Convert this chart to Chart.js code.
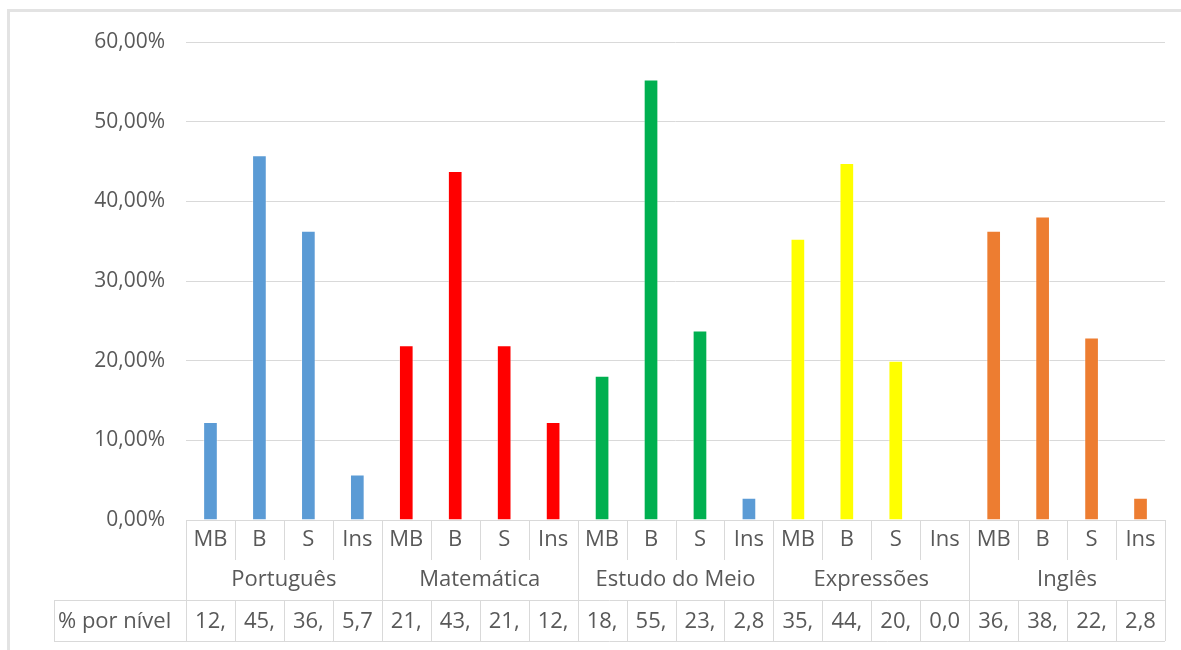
<!DOCTYPE html>
<html lang="pt">
<head>
    <meta charset="UTF-8">
    <title>% por nível</title>
    <style>
        body { margin: 0; background: #fff; }
        #wrap { width: 1181px; height: 650px; }
    </style>
</head>
<body>
    <div id="wrap"><canvas id="myChart" width="1181" height="650"></canvas></div>

    <script src="https://cdn.jsdelivr.net/npm/chart.js"></script>
    <script>
        // data
        const subjects = ['Português', 'Matemática', 'Estudo do Meio', 'Expressões', 'Inglês'];
        const levels = ['MB', 'B', 'S', 'Ins'];
        const percentages = [
            0.123, 0.458, 0.363, 0.057,
            0.2195, 0.438, 0.2195, 0.123,
            0.181, 0.553, 0.238, 0.028,
            0.353, 0.448, 0.200, 0.000,
            0.363, 0.381, 0.229, 0.028
        ];
        const barColors = [
            '#5B9BD5', '#5B9BD5', '#5B9BD5', '#5B9BD5',
            '#FF0000', '#FF0000', '#FF0000', '#FF0000',
            '#00B050', '#00B050', '#00B050', '#5B9BD5',
            '#FFFF00', '#FFFF00', '#FFFF00', '#FFFF00',
            '#ED7D31', '#ED7D31', '#ED7D31', '#ED7D31'
        ];
        const rowLabel = '% por nível';
        const yTicks = [0, 0.1, 0.2, 0.3, 0.4, 0.5, 0.6];

        const labels = [];
        subjects.forEach(s => levels.forEach(l => labels.push(l)));

        const FONT = '"Open Sans", sans-serif';
        const TEXT = '#595959';
        const LINE = '#d9d9d9';

        function pct(v) {
            return (v * 100).toFixed(2).replace('.', ',') + '%';
        }

        // frame + multi-level category axis + data table under the bars
        const tablePlugin = {
            id: 'tablePlugin',
            beforeDraw(chart) {
                const c = chart.ctx;
                c.save();
                c.fillStyle = '#fff';
                c.fillRect(0, 0, chart.width, chart.height);
                c.strokeStyle = '#e3e3e3';
                c.lineWidth = 3;
                c.beginPath();
                c.moveTo(8.5, chart.height);
                c.lineTo(8.5, 10.5);
                c.lineTo(chart.width, 10.5);
                c.stroke();
                c.restore();
            },
            afterDraw(chart) {
                const c = chart.ctx;
                const x = chart.scales.x;
                const area = chart.chartArea;
                const n = labels.length;
                const right = area.right;
                const half = (x.getPixelForValue(1) - x.getPixelForValue(0)) / 2;
                const y0 = area.bottom, y1 = y0 + 40, y2 = y1 + 40, y3 = y2 + 41;
                const rowLeft = 54;

                c.save();
                c.strokeStyle = LINE;
                c.lineWidth = 1;
                c.beginPath();
                // horizontal lines of the data table
                c.moveTo(rowLeft, y2 + 0.5); c.lineTo(right, y2 + 0.5);
                c.moveTo(rowLeft, y3 + 0.5); c.lineTo(right, y3 + 0.5);
                c.moveTo(rowLeft + 0.5, y2); c.lineTo(rowLeft + 0.5, y3);
                for (let i = 0; i <= n; i++) {
                    const px = Math.round(i < n ? x.getPixelForValue(i) - half : x.getPixelForValue(n - 1) + half) + 0.5;
                    const isGroup = i % levels.length === 0;
                    c.moveTo(px, y0);
                    c.lineTo(px, isGroup ? y3 : y1);
                    c.moveTo(px, y2);
                    c.lineTo(px, y3);
                }
                c.stroke();

                c.fillStyle = TEXT;
                c.font = '22px ' + FONT;
                c.textAlign = 'center';
                c.textBaseline = 'middle';
                for (let i = 0; i < n; i++) {
                    const cx = x.getPixelForValue(i);
                    c.fillText(labels[i], cx, (y0 + y1) / 2);
                    // Excel cuts the value off at the cell width
                    c.fillText(pct(percentages[i]).slice(0, 3), cx, (y2 + y3) / 2 + 1);
                }
                subjects.forEach((s, g) => {
                    const a = x.getPixelForValue(g * levels.length) - half;
                    const b = x.getPixelForValue(g * levels.length + levels.length - 1) + half;
                    c.fillText(s, (a + b) / 2, (y1 + y2) / 2);
                });
                c.textAlign = 'left';
                c.fillText(rowLabel, rowLeft + 4, (y2 + y3) / 2 + 1);
                c.restore();
            }
        };

        const ctx = document.getElementById('myChart').getContext('2d');
        const myChart = new Chart(ctx, {
            type: 'bar',
            data: {
                labels: labels,
                datasets: [{
                    data: percentages,
                    backgroundColor: barColors,
                    borderColor: 'rgba(255,255,255,0.45)',
                    borderWidth: 1,
                    categoryPercentage: 1,
                    barPercentage: 0.3
                }]
            },
            options: {
                responsive: false,
                animation: false,
                layout: {
                    padding: { top: 42, right: 16, bottom: 130, left: 0 }
                },
                plugins: {
                    legend: { display: false },
                    tooltip: { enabled: false }
                },
                scales: {
                    x: {
                        display: false
                    },
                    y: {
                        min: 0,
                        max: 0.6,
                        afterFit(scale) { scale.width = 186; },
                        afterBuildTicks(scale) { scale.ticks = yTicks.map(v => ({ value: v })); },
                        border: { display: false },
                        grid: { color: LINE, drawTicks: false },
                        ticks: {
                            padding: 21,
                            color: TEXT,
                            font: { family: FONT, size: 21 },
                            callback: v => pct(v)
                        }
                    }
                }
            },
            plugins: [tablePlugin]
        });
    </script>
</body>
</html>
